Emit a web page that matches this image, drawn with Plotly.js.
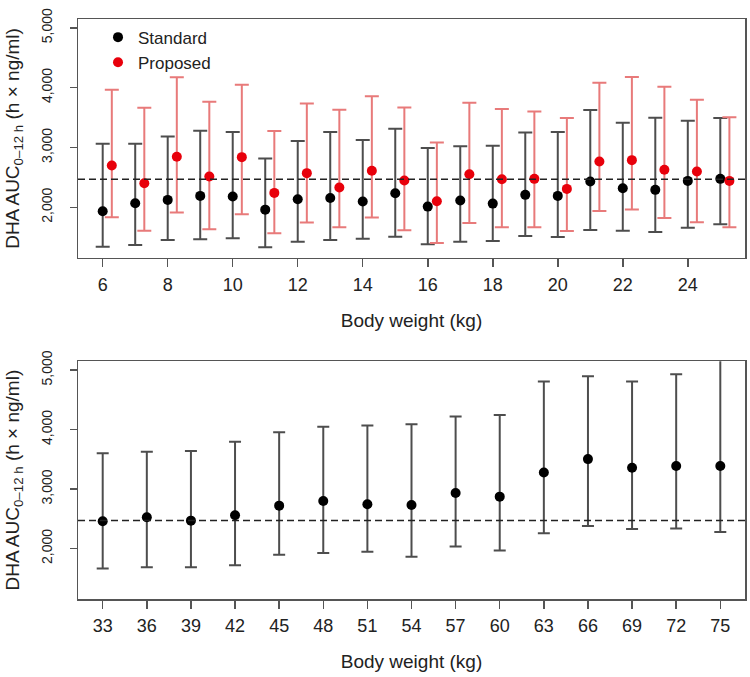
<!DOCTYPE html>
<html>
<head>
<meta charset="utf-8">
<script src="https://cdn.plot.ly/plotly-3.0.1.min.js"></script>
<style>
  html, body { margin: 0; padding: 0; background: #fff; }
  #chart { width: 750px; height: 677px; }
</style>
</head>
<body>
<div id="chart"></div>
<script>
// top panel: 6-25 kg, standard vs proposed dosing
const weightsLow = [6, 7, 8, 9, 10, 11, 12, 13, 14, 15, 16, 17, 18, 19, 20, 21, 22, 23, 24, 25];
const stdMedian = [1933, 2067, 2123, 2190, 2179, 1960, 2134, 2156, 2095, 2235, 2011, 2112, 2061, 2207, 2190, 2430, 2318, 2291, 2441, 2475];
const stdLower  = [1341, 1369, 1453, 1464, 1480, 1330, 1425, 1453, 1475, 1508, 1380, 1425, 1436, 1520, 1503, 1620, 1609, 1587, 1659, 1715];
const stdUpper  = [3061, 3060, 3184, 3279, 3257, 2816, 3106, 3257, 3123, 3313, 2989, 3022, 3028, 3251, 3257, 3626, 3413, 3497, 3447, 3492];
const propMedian = [2698, 2402, 2844, 2514, 2838, 2240, 2570, 2330, 2609, 2447, 2101, 2553, 2469, 2475, 2307, 2765, 2788, 2626, 2598, 2441];
const propLower  = [1832, 1609, 1911, 1631, 1883, 1564, 1743, 1665, 1827, 1615, 1402, 1737, 1665, 1665, 1603, 1939, 1961, 1821, 1749, 1665];
const propUpper  = [3966, 3665, 4173, 3765, 4050, 3274, 3737, 3631, 3855, 3670, 3084, 3749, 3642, 3603, 3492, 4084, 4179, 4017, 3799, 3503];

// bottom panel: 33-75 kg
const weightsHigh = [33, 36, 39, 42, 45, 48, 51, 54, 57, 60, 63, 66, 69, 72, 75];
const highMedian = [2458, 2525, 2469, 2559, 2721, 2799, 2743, 2732, 2933, 2872, 3279, 3503, 3358, 3386, 3386];
const highLower  = [1665, 1687, 1687, 1721, 1894, 1927, 1944, 1860, 2034, 1966, 2257, 2380, 2330, 2335, 2279];
const highUpper  = [3603, 3626, 3637, 3793, 3955, 4045, 4067, 4089, 4218, 4246, 4805, 4894, 4805, 4927, 5400];

const targetAuc = 2470;
const yTicks = [2000, 3000, 4000, 5000];
const yTickText = ["2,000", "3,000", "4,000", "5,000"];

const dodge = 0.28;
const greyBar = "#4d4d4d";
const redBar = "#e87a7a";

function errs(mid, lo, hi, color, width) {
  return {
    type: "data",
    symmetric: false,
    array: hi.map((v, i) => v - mid[i]),
    arrayminus: mid.map((v, i) => v - lo[i]),
    color: color,
    thickness: 2,
    width: width
  };
}

const traces = [
  {
    type: "scatter", mode: "markers", name: "Standard",
    x: weightsLow, y: stdMedian,
    error_y: errs(stdMedian, stdLower, stdUpper, greyBar, 7),
    marker: { color: "#000", size: 10 },
    xaxis: "x", yaxis: "y"
  },
  {
    type: "scatter", mode: "markers", name: "Proposed",
    x: weightsLow.map(w => w + dodge), y: propMedian,
    error_y: errs(propMedian, propLower, propUpper, redBar, 7),
    marker: { color: "#e8000b", size: 10 },
    xaxis: "x", yaxis: "y"
  },
  {
    type: "scatter", mode: "markers", name: "Standard", showlegend: false,
    x: weightsHigh, y: highMedian,
    error_y: errs(highMedian, highLower, highUpper, greyBar, 6),
    marker: { color: "#000", size: 10 },
    xaxis: "x2", yaxis: "y2"
  }
];

const font = { family: "Liberation Sans, Arial, sans-serif", size: 18, color: "#222" };

const yBase = {
  range: [1152, 5148],
  tickvals: yTicks, ticktext: yTickText, tickangle: -90,
  ticks: "outside", ticklen: 7, tickwidth: 1.5, tickcolor: "#555",
  showline: true, mirror: true, linecolor: "#555", linewidth: 1.5,
  showgrid: false, zeroline: false,
  tickfont: { size: 14 },
  ticklabelstandoff: 12,
  title: { text: "DHA AUC<sub>0\u201312 h</sub> (h \u00d7 ng/ml)", font: { size: 19 }, standoff: 14 }
};
const xBase = {
  ticks: "outside", ticklen: 8, tickwidth: 1.5, tickcolor: "#555",
  showline: true, mirror: true, linecolor: "#555", linewidth: 1.5,
  showgrid: false, zeroline: false,
  tickfont: { size: 18 },
  ticklabelstandoff: 2,
  title: { text: "Body weight (kg)", font: { size: 19 }, standoff: 19 }
};

const layout = {
  width: 750, height: 677,
  margin: { l: 78, r: 5, t: 19, b: 78 },
  paper_bgcolor: "#fff", plot_bgcolor: "#fff",
  font: font,
  showlegend: true,
  legend: { x: 0.03, y: 0.999, xanchor: "left", yanchor: "top", bgcolor: "rgba(0,0,0,0)", font: { size: 17 }, tracegroupgap: 0 },
  xaxis: Object.assign({}, xBase, { range: [5.24, 25.76], tickvals: [6, 8, 10, 12, 14, 16, 18, 20, 22, 24], anchor: "y" }),
  yaxis: Object.assign({}, yBase, { domain: [0.588, 1], anchor: "x" }),
  xaxis2: Object.assign({}, xBase, { range: [31.32, 76.68], tickvals: weightsHigh, anchor: "y2" }),
  yaxis2: Object.assign({}, yBase, { domain: [0, 0.41], anchor: "x2" }),
  shapes: [
    { type: "line", xref: "x domain", yref: "y", x0: 0, x1: 1, y0: targetAuc, y1: targetAuc, line: { color: "#222", width: 1.5, dash: "7px,4px" } },
    { type: "line", xref: "x2 domain", yref: "y2", x0: 0, x1: 1, y0: targetAuc, y1: targetAuc, line: { color: "#222", width: 1.5, dash: "7px,4px" } }
  ]
};

Plotly.newPlot("chart", traces, layout, { displayModeBar: false, staticPlot: true });
</script>
</body>
</html>
